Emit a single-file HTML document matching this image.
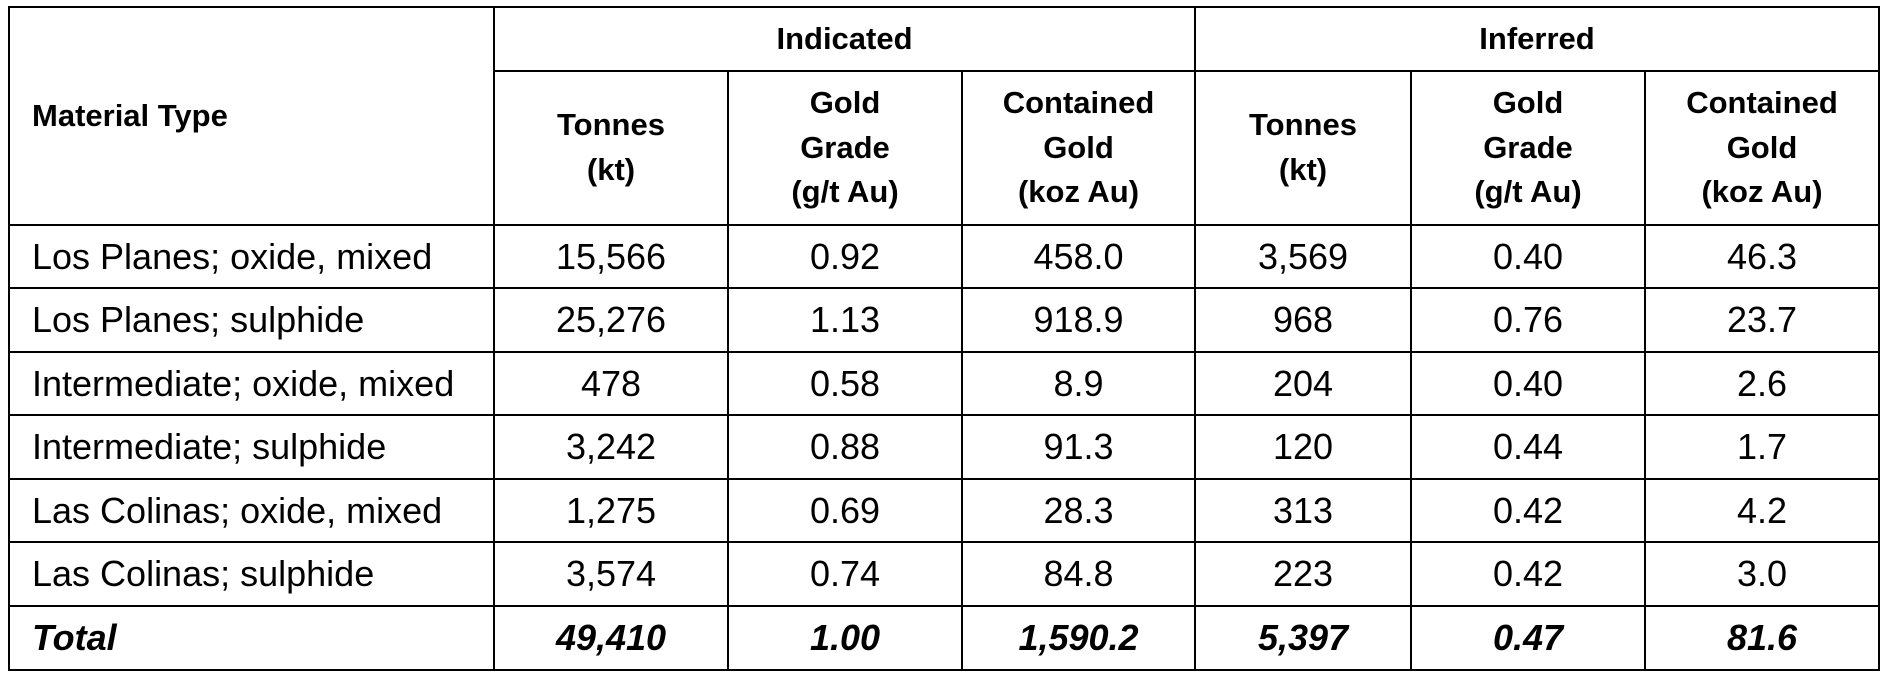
<!DOCTYPE html>
<html><head><meta charset="utf-8"><style>
body{margin:0;background:#fff;width:1891px;height:682px;overflow:hidden;position:relative;font-family:"Liberation Sans",Arial,sans-serif;color:#000}
.c{position:absolute;display:flex;align-items:center;justify-content:center;text-align:center;box-sizing:border-box;border:2px solid #000;margin:-1px 0 0 -1px;font-size:36px;line-height:1.2}
.h{font-weight:bold;font-size:31px;line-height:1.45}
.l{justify-content:flex-start;padding-left:22px;text-align:left}
.t{font-weight:bold;font-style:italic}
</style></head><body>
<div id="tbl"></div>
<script>
const xs=[9,494,728,962,1195,1411,1645,1879];
const ys=[225,288,352,415,479,542,606,670];
const rowLabels=["Los Planes; oxide, mixed","Los Planes; sulphide","Intermediate; oxide, mixed","Intermediate; sulphide","Las Colinas; oxide, mixed","Las Colinas; sulphide","Total"];
const indTonnes=["15,566","25,276","478","3,242","1,275","3,574","49,410"];
const indGrade=["0.92","1.13","0.58","0.88","0.69","0.74","1.00"];
const indGold=["458.0","918.9","8.9","91.3","28.3","84.8","1,590.2"];
const infTonnes=["3,569","968","204","120","313","223","5,397"];
const infGrade=["0.40","0.76","0.40","0.44","0.42","0.42","0.47"];
const infGold=["46.3","23.7","2.6","1.7","4.2","3.0","81.6"];
const subHeads=["Tonnes<br>(kt)","Gold<br>Grade<br>(g/t Au)","Contained<br>Gold<br>(koz Au)"];
const tbl=document.getElementById('tbl');
function cell(x1,y1,x2,y2,html,cls,name){
  const d=document.createElement('div');
  d.className='c '+cls;
  d.style.left=x1+'px';d.style.top=y1+'px';d.style.width=(x2-x1+2)+'px';d.style.height=(y2-y1+2)+'px';
  d.innerHTML=html;
  
  
  tbl.appendChild(d);
}
cell(xs[0],7,xs[1],225,'Material Type','h l','material-type-header');
cell(xs[1],7,xs[4],71,'Indicated','h','indicated-header');
cell(xs[4],7,xs[7],71,'Inferred','h','inferred-header');
for(let i=0;i<6;i++){cell(xs[i+1],71,xs[i+2],225,subHeads[i%3],'h','column-header-'+(i+1));}
const cols=[indTonnes,indGrade,indGold,infTonnes,infGrade,infGold];
for(let r=0;r<rowLabels.length;r++){
  const tot=r===rowLabels.length-1?' t':'';
  cell(xs[0],ys[r],xs[1],ys[r+1],rowLabels[r],'l'+tot,'row-label-'+(r+1));
  for(let c=0;c<6;c++){cell(xs[c+1],ys[r],xs[c+2],ys[r+1],cols[c][r],tot,'value-cell-r'+(r+1)+'-c'+(c+1));}
}
</script>
</body></html>
